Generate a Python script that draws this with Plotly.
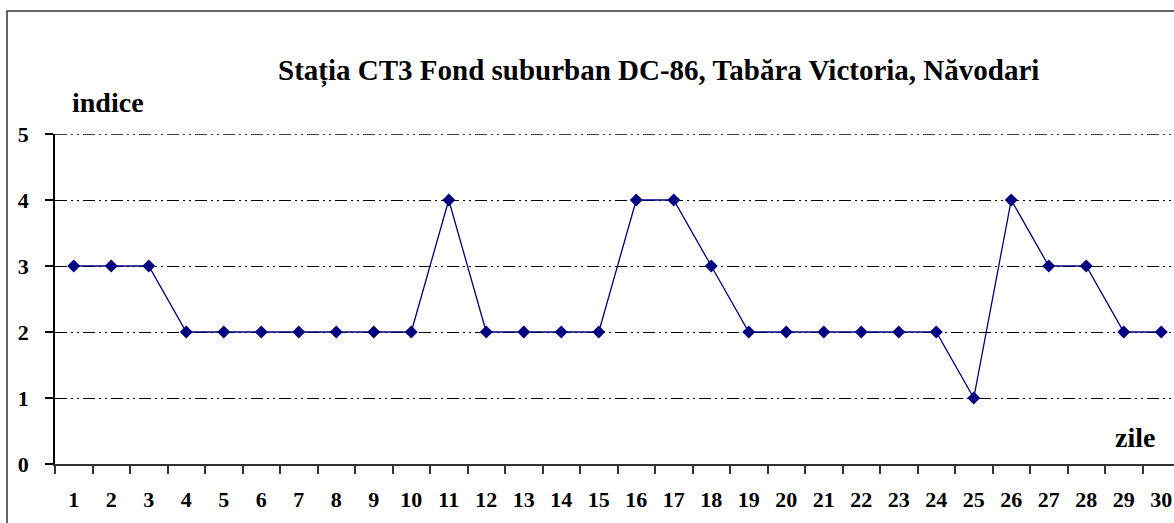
import plotly.graph_objects as go

days = [str(i) for i in range(1, 31)]
indice = [3, 3, 3, 2, 2, 2, 2, 2, 2, 2, 4, 2, 2, 2, 2, 4, 4, 3, 2, 2, 2, 2, 2, 2, 1, 4, 3, 3, 2, 2]
y_ticks = [0, 1, 2, 3, 4, 5]
title_text = "Stația CT3 Fond suburban DC-86, Tabăra Victoria, Năvodari"
y_label = "indice"
x_label = "zile"

W, H = 1174, 523
L, R, T, B = 55, 0, 134, 59
pw, ph = W - L - R, H - T - B

def px(x):
    return (x - L) / pw

def py(y):
    return (H - B - y) / ph

SERIF = "'Liberation Serif', 'Times New Roman', Times, serif"

fig = go.Figure()
fig.add_trace(go.Scatter(
    x=days, y=indice, mode="lines+markers",
    line=dict(color="#000080", width=1.3),
    marker=dict(symbol="diamond", size=10, color="#000080"),
    showlegend=False, cliponaxis=False,
))

grid_dash = "12px,4px,2px,4px,2px,4px"

fig.update_layout(
    width=W, height=H,
    margin=dict(l=L, r=R, t=T, b=B, pad=0),
    paper_bgcolor="white", plot_bgcolor="white",
    font=dict(family=SERIF, color="black"),
    xaxis=dict(
        type="category", range=[-0.5, 29.34], tickson="boundaries",
        ticks="outside", ticklen=8, tickwidth=1.5, tickcolor="#333",
        showline=True, linecolor="#333", linewidth=2,
        showgrid=False, zeroline=False,
        tickfont=dict(family=SERIF, size=22, weight="bold", color="black"),
        ticklabelstandoff=15,
    ),
    yaxis=dict(
        range=[0, 5], tickvals=y_ticks,
        ticks="outside", ticklen=8, tickwidth=1.5, tickcolor="black",
        showline=True, linecolor="black", linewidth=1.5,
        showgrid=True, gridcolor="black", gridwidth=1.3, griddash=grid_dash,
        zeroline=False,
        tickfont=dict(family=SERIF, size=22, weight="bold", color="black"),
        ticklabelstandoff=12,
    ),
    shapes=[
        dict(type="rect", xref="paper", yref="paper",
             x0=px(7), x1=px(1185), y0=py(535), y1=py(11),
             line=dict(color="#333", width=1.5), fillcolor="rgba(0,0,0,0)", layer="below"),
        dict(type="line", xref="paper", yref="y", x0=0, x1=1, y0=y_ticks[-1], y1=y_ticks[-1],
             line=dict(color="black", width=1.3, dash=grid_dash), layer="below"),
    ],
    annotations=[
        dict(text=title_text, xref="paper", yref="paper", x=px(658), y=py(71),
             xanchor="center", yanchor="middle", showarrow=False,
             font=dict(family=SERIF, size=29, weight="bold", color="black")),
        dict(text=y_label, xref="paper", yref="paper", x=px(108), y=py(102),
             xanchor="center", yanchor="middle", showarrow=False,
             font=dict(family=SERIF, size=28, weight="bold", color="black")),
        dict(text=x_label, xref="paper", yref="paper", x=px(1135), y=py(437),
             xanchor="center", yanchor="middle", showarrow=False,
             font=dict(family=SERIF, size=28, weight="bold", color="black")),
    ],
)

fig.write_html("out.html", config={"displayModeBar": False},
               post_script="document.body.style.margin='0';document.body.style.overflow='hidden';")
